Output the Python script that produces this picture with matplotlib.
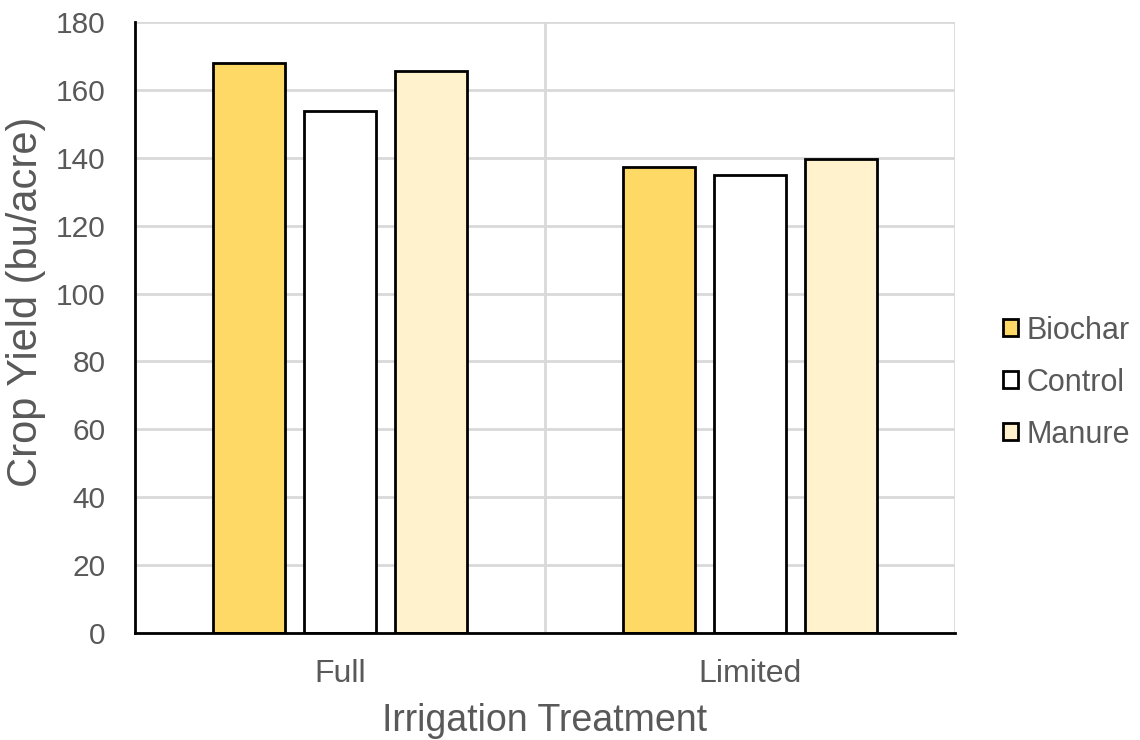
import numpy as np
import matplotlib
matplotlib.use('Agg')
import matplotlib.pyplot as plt
from matplotlib.patches import Patch

plt.rcParams['font.family'] = ['Liberation Sans', 'DejaVu Sans']

# Data
categories = ['Full', 'Limited']
series_names = ['Biochar', 'Control', 'Manure']
biochar = [167.8, 137.2]
control = [153.8, 134.8]
manure = [165.6, 139.5]
series_values = [biochar, control, manure]
series_colors = ['#FFD966', '#FFFFFF', '#FFF2CC']

TEXT_COLOR = '#595959'
GRID_COLOR = '#D9D9D9'

fig = plt.figure(figsize=(11.4, 7.4), dpi=100)
ax = fig.add_axes([0.1184, 0.1446, 0.8377 - 0.1184, 0.9703 - 0.1446])

x = np.arange(len(categories))
bar_width = 0.176
spacing = 0.222

for i, (name, vals, col) in enumerate(zip(series_names, series_values, series_colors)):
    ax.bar(x + (i - 1) * spacing, vals, width=bar_width, color=col,
           edgecolor='black', linewidth=2, label=name, zorder=3)

ax.set_xlim(-0.5, 1.5)
ax.set_ylim(0, 180)
ax.set_yticks(np.arange(0, 181, 20))
ax.set_xticks(x)
ax.set_xticklabels(categories)

# gridlines: horizontal + vertical category separators
ax.yaxis.grid(True, color=GRID_COLOR, linewidth=2, zorder=0)
for sep in [0.5, 1.5]:
    ax.axvline(sep, color=GRID_COLOR, linewidth=2, zorder=0)

for side in ['top', 'right']:
    ax.spines[side].set_visible(False)
ax.spines['left'].set_color('black')
ax.spines['left'].set_linewidth(2)
ax.spines['bottom'].set_color('black')
ax.spines['bottom'].set_linewidth(2)
ax.spines['left'].set_zorder(4)
ax.spines['bottom'].set_zorder(4)

ax.tick_params(axis='both', length=0, colors=TEXT_COLOR)
ax.tick_params(axis='y', labelsize=21.5, pad=21)
ax.tick_params(axis='x', labelsize=23, pad=19)

ax.set_ylabel('Crop Yield (bu/acre)', fontsize=30, color=TEXT_COLOR)
ax.yaxis.set_label_coords(-0.108, 0.542)
ax.set_xlabel('Irrigation Treatment', fontsize=27, color=TEXT_COLOR, labelpad=10)

handles = [Patch(facecolor=c, edgecolor='black', linewidth=2) for c in series_colors]
leg = fig.legend(handles, series_names, loc='center left',
                 bbox_to_anchor=(0.880, 0.483), frameon=False, fontsize=22,
                 handlelength=0.5, handleheight=0.5, handletextpad=0.25,
                 labelspacing=0.72, labelcolor=TEXT_COLOR, borderpad=0,
                 borderaxespad=0)

plt.savefig('out.png', dpi=100)
